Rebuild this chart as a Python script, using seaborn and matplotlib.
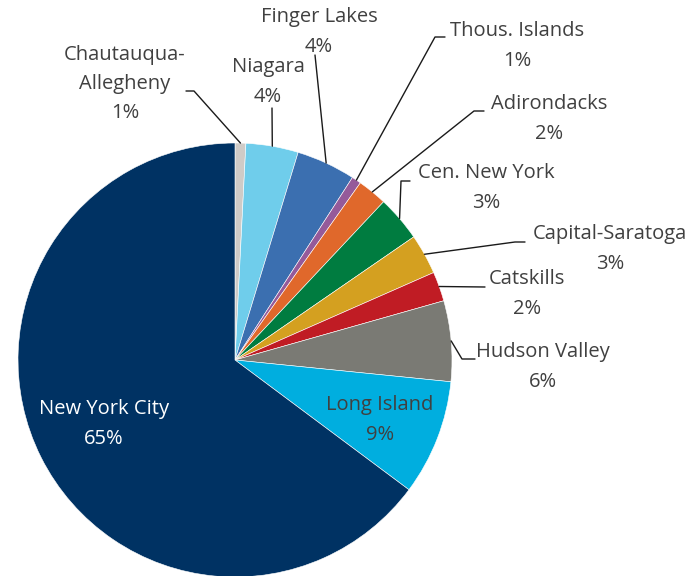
import numpy as np
import seaborn as sns
import matplotlib.pyplot as plt

sns.set_theme(style="white")
plt.rcParams['font.family'] = ['Open Sans', 'DejaVu Sans']

# regions, clockwise from 12 o'clock
regions = ["Chautauqua-\nAllegheny", "Niagara", "Finger Lakes", "Thous. Islands",
           "Adirondacks", "Cen. New York", "Capital-Saratoga", "Catskills",
           "Hudson Valley", "Long Island", "New York City"]
shares = [0.8, 3.9, 4.4, 0.7, 2.2, 3.4, 3.0, 2.2, 6.0, 8.6, 64.8]
colors = ["#cfcbc7", "#6fcdeb", "#3b6fb0", "#955a9a", "#e0682b", "#007c40",
          "#d4a020", "#c01c24", "#7a7a74", "#00aedf", "#003263"]
text_colors = ["#404040"] * 10 + ["white"]

# label centres in pixels (x, y from top) and leader paths near the text
label_px = [(125, 84), (268, 82), (319, 32), (517, 46), (549, 119), (486, 188),
            (610, 249), (527, 294), (543, 367), (380, 420), (104, 424)]
leader_px = [[(186, 91), (194, 91)], [(272, 108)], [(315, 55)],
             [(445, 37), (435, 37)], [(484, 111), (474, 111)],
             [(410, 181), (401, 181)], [(525, 242), (515, 242)],
             [(485, 287)], [(475, 359), (462, 359)], None, None]

W, H = 694, 576
CX, CY, R = 235, 360, 217


def to_data(p):
    return ((p[0] - CX) / R, (CY - p[1]) / R)


fig = plt.figure(figsize=(W / 100, H / 100), dpi=100)
ax = fig.add_axes([0, 0, 1, 1])
wedges, _ = ax.pie(shares, colors=colors, startangle=90, counterclock=False,
                   radius=1, wedgeprops=dict(edgecolor="white", linewidth=0.4))
ax.set_xlim(-CX / R, (W - CX) / R)
ax.set_ylim(-(H - CY) / R, CY / R)
ax.set_aspect("equal")
ax.axis("off")

for w, name, val, lp, path, tc in zip(wedges, regions, shares, label_px,
                                      leader_px, text_colors):
    x, y = to_data(lp)
    ax.text(x, y, f"{name}\n{val:.0f}%", ha="center", va="center",
            fontsize=14.5, color=tc, linespacing=1.62)
    if path is None:
        continue
    ang = np.deg2rad((w.theta1 + w.theta2) / 2)
    pts = [to_data(p) for p in path] + [(np.cos(ang), np.sin(ang))]
    xs, ys = zip(*pts)
    ax.plot(xs, ys, color="#1a1a1a", lw=1)

fig.savefig("out.png", dpi=100)
